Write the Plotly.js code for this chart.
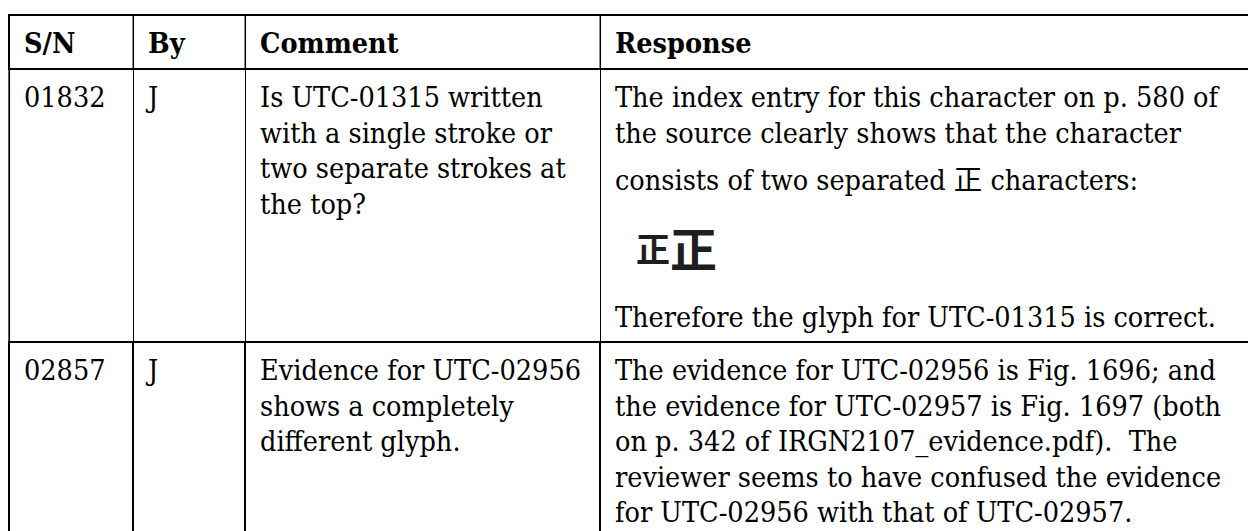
<!DOCTYPE html>
<html>
<head>
<meta charset="utf-8">
<script src="https://cdn.plot.ly/plotly-3.0.1.min.js"></script>
<style>
html,body{margin:0;padding:0;background:#ffffff;}
#chart{width:1248px;height:531px;}
</style>
</head>
<body>
<div id="chart"></div>
<script>
// ---------------- data ----------------
const headers = ["S/N", "By", "Comment", "Response"];
const serialNumbers = ["01832", "02857"];
const reviewers = ["J", "J"];
const comments = [
  ["Is UTC-01315 written", "with a single stroke or", "two separate strokes at", "the top?"],
  ["Evidence for UTC-02956", "shows a completely", "different glyph."]
];
const GLYPH = "[glyph]";            // placeholder for the scanned glyph image
const glyphParts = ["正", "正"];     // the scanned glyph: two separated 正
const responses = [
  ["The index entry for this character on p. 580 of",
   "the source clearly shows that the character",
   "consists of two separated 正 characters:",
   GLYPH,
   "Therefore the glyph for UTC-01315 is correct."],
  ["The evidence for UTC-02956 is Fig. 1696; and",
   "the evidence for UTC-02957 is Fig. 1697 (both",
   "on p. 342 of IRGN2107_evidence.pdf).\u00a0 The",
   "reviewer seems to have confused the evidence",
   "for UTC-02956 with that of UTC-02957."]
];

// ---------------- layout constants ----------------
const W = 1248, H = 531;
const colLeft = [9, 133, 245, 600];
const PAD = 15;
const tableTop = 15, headerBottom = 69;
const rowTops = [69, 342];
const headerBaseline = 53;
const FIRST = 38, STEP = 35.5;
const responseOffsets = [[38, 74, 121, null, 258], null];
const FS = 28.5;
const BODY_FONT = "DejaVu Serif Condensed, DejaVu Serif, Noto Sans CJK SC, serif";
const shiftFor = fs => fs * 0.25;   // baseline offset for 'middle right' text

// glyph image layout (relative to the response column edge / row top)
const glyphSizes = [34, 47];
const glyphDx = [36, 70];
const glyphBaseOff = [262 - 69, 267 - 69];

// ---------------- build text marks ----------------
const tx = [], ty = [], tt = [];
function addLine(col, row, off, text) {
  tx.push(colLeft[col] + PAD);
  ty.push(rowTops[row] + off - shiftFor(FS));
  tt.push(text);
}
for (let r = 0; r < serialNumbers.length; r++) {
  addLine(0, r, FIRST, serialNumbers[r]);
  addLine(1, r, FIRST, reviewers[r]);
  comments[r].forEach((line, i) => addLine(2, r, FIRST + i * STEP, line));
  responses[r].forEach((line, i) => {
    if (line === GLYPH) return;
    const off = responseOffsets[r] ? responseOffsets[r][i] : FIRST + i * STEP;
    addLine(3, r, off, line);
  });
}

const traces = [];
traces.push({
  type: "scatter", mode: "text",
  x: headers.map((h, i) => colLeft[i] + PAD),
  y: headers.map(() => headerBaseline - shiftFor(FS)),
  text: headers,
  textposition: "middle right",
  textfont: {family: BODY_FONT, size: FS, color: "#000000", weight: "bold"},
  hoverinfo: "skip", showlegend: false, cliponaxis: false
});
traces.push({
  type: "scatter", mode: "text",
  x: tx, y: ty, text: tt,
  textposition: "middle right",
  textfont: {family: BODY_FONT, size: FS, color: "#000000"},
  hoverinfo: "skip", showlegend: false, cliponaxis: false
});
glyphParts.forEach((g, i) => {
  traces.push({
    type: "scatter", mode: "text",
    x: [colLeft[3] + glyphDx[i]],
    y: [rowTops[0] + glyphBaseOff[i] - shiftFor(glyphSizes[i])],
    text: [g],
    textposition: "middle right",
    textfont: {family: "Noto Sans CJK SC", size: glyphSizes[i], color: "#1e1e1e", weight: "bold"},
    hoverinfo: "skip", showlegend: false, cliponaxis: false
  });
});

// ---------------- grid lines ----------------
const shapes = [];
function hline(y, w) {
  shapes.push({type: "line", xref: "x", yref: "y", x0: colLeft[0] - 1, x1: W + 2, y0: y, y1: y,
               line: {color: "#000000", width: w}});
}
function vline(x, y0, y1, w) {
  shapes.push({type: "line", xref: "x", yref: "y", x0: x, x1: x, y0: y0, y1: y1,
               line: {color: "#000000", width: w}});
}
hline(tableTop, 2);
hline(headerBottom, 2);
hline(rowTops[1], 2);
// header verticals
vline(colLeft[0], tableTop, headerBottom, 2);
[1, 2, 3].forEach(c => vline(colLeft[c] + 0.3, tableTop, headerBottom, 1.5));
// row 1 verticals
vline(colLeft[0] + 0.2, headerBottom, rowTops[1], 1.7);
[1, 2, 3].forEach(c => vline(colLeft[c] + 0.5, headerBottom, rowTops[1], 1));
// row 2 verticals
vline(colLeft[0], rowTops[1], H + 2, 2);
[1, 2, 3].forEach(c => vline(colLeft[c], rowTops[1], H + 2, 2));

const layout = {
  width: W, height: H,
  margin: {l: 0, r: 0, t: 0, b: 0, pad: 0},
  paper_bgcolor: "#ffffff", plot_bgcolor: "#ffffff",
  xaxis: {range: [0, W], visible: false, fixedrange: true},
  yaxis: {range: [H, 0], visible: false, fixedrange: true},
  shapes: shapes,
  showlegend: false,
  hovermode: false
};
Plotly.newPlot("chart", traces, layout, {staticPlot: true, displayModeBar: false});
</script>
</body>
</html>
